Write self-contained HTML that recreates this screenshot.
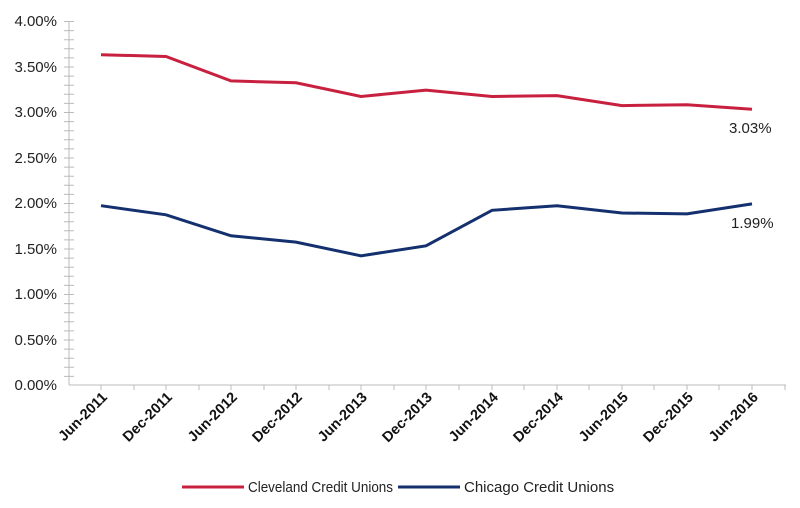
<!DOCTYPE html>
<html><head><style>body{margin:0;background:#fff}svg{display:block}</style></head><body>
<svg width="800" height="508" xmlns="http://www.w3.org/2000/svg" font-family="Liberation Sans, sans-serif">
<g font-size="15" fill="#222" text-anchor="end">
<text x="57" y="390">0.00%</text><text x="57" y="345">0.50%</text><text x="57" y="299">1.00%</text><text x="57" y="254">1.50%</text><text x="57" y="208">2.00%</text><text x="57" y="163">2.50%</text><text x="57" y="117">3.00%</text><text x="57" y="72">3.50%</text><text x="57" y="26">4.00%</text>
</g>
<g stroke="#bbb" stroke-width="1">
<line x1="69" y1="21" x2="69" y2="385"/>
<line x1="69" y1="385" x2="786" y2="385"/>
<path d="M64 21.5h10M64 30.6h10M64 39.7h10M64 48.8h10M64 57.9h10M64 67h10M64 76.1h10M64 85.2h10M64 94.3h10M64 103.4h10M64 112.5h10M64 121.6h10M64 130.7h10M64 139.8h10M64 148.9h10M64 158h10M64 167.1h10M64 176.2h10M64 185.3h10M64 194.4h10M64 203.5h10M64 212.6h10M64 221.7h10M64 230.8h10M64 239.9h10M64 249h10M64 258.1h10M64 267.2h10M64 276.3h10M64 285.4h10M64 294.5h10M64 303.6h10M64 312.7h10M64 321.8h10M64 330.9h10M64 340h10M64 349.1h10M64 358.2h10M64 367.3h10M64 376.4h10"/>
<path d="M101 385v5M134 385v5M166 385v5M199 385v5M231 385v5M264 385v5M296 385v5M329 385v5M361 385v5M394 385v5M426 385v5M459 385v5M492 385v5M524 385v5M557 385v5M589 385v5M622 385v5M654 385v5M687 385v5M719 385v5M752 385v5M785 385v5"/>
</g>
<polyline fill="none" stroke="#c8203f" stroke-width="3" points="101,54.7 166,56.5 231,80.9 296,82.8 361,96.5 426,90.1 492,96.5 557,95.6 622,105.6 687,104.7 752,109.3"/>
<polyline fill="none" stroke="#14306e" stroke-width="3" points="101,205.7 166,214.8 231,235.8 296,242.1 361,255.8 426,245.8 492,210.3 557,205.7 622,213 687,213.9 752,203.9"/>
<g font-size="15" fill="#222"><text x="729" y="133">3.03%</text><text x="731" y="228">1.99%</text></g>
<g font-size="14.5" font-weight="bold" fill="#111" text-anchor="end">
<text transform="translate(108,398) rotate(-45)">Jun-2011</text>
<text transform="translate(173,398) rotate(-45)">Dec-2011</text>
<text transform="translate(238,398) rotate(-45)">Jun-2012</text>
<text transform="translate(303,398) rotate(-45)">Dec-2012</text>
<text transform="translate(368,398) rotate(-45)">Jun-2013</text>
<text transform="translate(433,398) rotate(-45)">Dec-2013</text>
<text transform="translate(499,398) rotate(-45)">Jun-2014</text>
<text transform="translate(564,398) rotate(-45)">Dec-2014</text>
<text transform="translate(629,398) rotate(-45)">Jun-2015</text>
<text transform="translate(694,398) rotate(-45)">Dec-2015</text>
<text transform="translate(759,398) rotate(-45)">Jun-2016</text>
</g>
<line x1="182" y1="487" x2="244" y2="487" stroke="#c8203f" stroke-width="3"/>
<text x="248" y="492" font-size="15" fill="#222" textLength="145" lengthAdjust="spacingAndGlyphs">Cleveland Credit Unions</text>
<line x1="398" y1="487" x2="460" y2="487" stroke="#14306e" stroke-width="3"/>
<text x="464" y="492" font-size="15" fill="#222">Chicago Credit Unions</text>
</svg>
</body></html>
